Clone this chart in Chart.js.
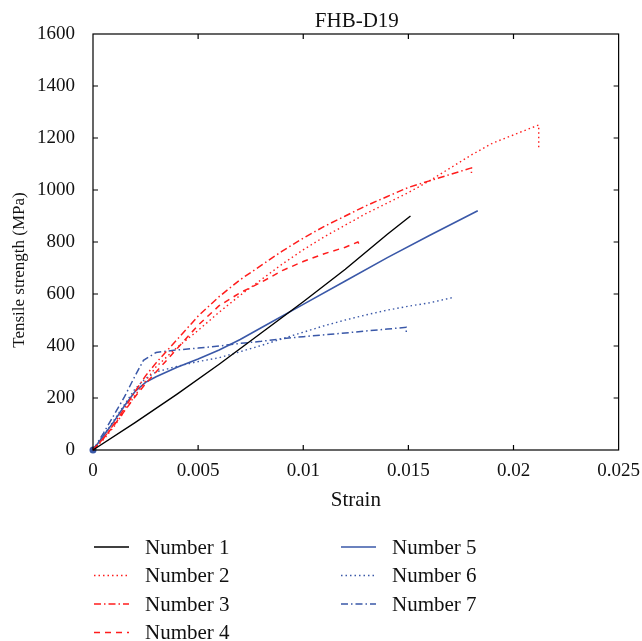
<!DOCTYPE html>
<html>
<head>
<meta charset="utf-8">
<script src="https://cdn.jsdelivr.net/npm/chart.js@4.4.1/dist/chart.umd.min.js"></script>
<style>
  html, body { margin: 0; padding: 0; background: #fff; }
  #wrap { position: relative; width: 642px; height: 641px; }
</style>
</head>
<body>
<div id="wrap"><canvas id="c" width="642" height="641"></canvas></div>
<script>
// ---- Data ----
const chartTitle = 'FHB-D19';
const xTitle = 'Strain';
const yTitle = 'Tensile strength (MPa)';
const xTickLabels = ['0', '0.005', '0.01', '0.015', '0.02', '0.025'];
const yTickLabels = ['0', '200', '400', '600', '800', '1000', '1200', '1400', '1600'];
const seriesNames = ['Number 1', 'Number 2', 'Number 3', 'Number 4', 'Number 5', 'Number 6', 'Number 7'];

const n1Strain = [0, 0.002, 0.004, 0.006, 0.008, 0.010, 0.012, 0.014, 0.0151];
const n1Stress = [0, 105, 215, 330, 450, 570, 695, 830, 900];

const n2Strain = [0, 0.0005, 0.001, 0.0015, 0.002, 0.0025, 0.003, 0.004, 0.005, 0.006, 0.007, 0.008, 0.009, 0.010, 0.011, 0.012, 0.013, 0.014, 0.015, 0.016, 0.017, 0.018, 0.019, 0.020, 0.0212, 0.0212];
const n2Stress = [0, 40, 90, 150, 210, 265, 320, 395, 460, 530, 595, 655, 715, 770, 820, 865, 910, 950, 990, 1035, 1085, 1135, 1180, 1212, 1250, 1160];

const n3Strain = [0, 0.0005, 0.001, 0.0015, 0.002, 0.0025, 0.003, 0.004, 0.005, 0.006, 0.007, 0.008, 0.009, 0.010, 0.011, 0.012, 0.013, 0.014, 0.015, 0.016, 0.017, 0.018, 0.018];
const n3Stress = [0, 45, 100, 160, 225, 285, 335, 425, 515, 590, 655, 710, 765, 815, 860, 900, 940, 975, 1010, 1035, 1060, 1085, 1065];

const n4Strain = [0, 0.0005, 0.001, 0.0015, 0.002, 0.0025, 0.003, 0.004, 0.005, 0.006, 0.007, 0.008, 0.009, 0.010, 0.011, 0.012, 0.0126, 0.0127];
const n4Stress = [0, 45, 95, 150, 205, 255, 300, 390, 480, 555, 605, 645, 690, 725, 755, 780, 800, 785];

const n5Strain = [0, 0.0005, 0.001, 0.0015, 0.002, 0.0025, 0.003, 0.004, 0.005, 0.006, 0.007, 0.008, 0.010, 0.012, 0.014, 0.016, 0.0183];
const n5Stress = [0, 55, 110, 170, 225, 260, 282, 318, 350, 385, 425, 470, 560, 650, 740, 825, 920];

const n6Strain = [0, 0.0005, 0.001, 0.0015, 0.002, 0.0025, 0.003, 0.004, 0.005, 0.006, 0.007, 0.008, 0.009, 0.010, 0.011, 0.012, 0.013, 0.014, 0.015, 0.016, 0.0172];
const n6Stress = [0, 55, 115, 175, 235, 275, 300, 322, 340, 355, 378, 402, 428, 453, 478, 500, 520, 538, 553, 566, 588];

const n7Strain = [0, 0.0005, 0.001, 0.0015, 0.002, 0.0024, 0.003, 0.004, 0.005, 0.006, 0.007, 0.008, 0.009, 0.010, 0.011, 0.012, 0.013, 0.014, 0.0149, 0.0149];
const n7Stress = [0, 65, 135, 205, 285, 345, 375, 385, 392, 400, 410, 418, 428, 436, 443, 450, 458, 465, 472, 452];

// ---- Build datasets ----
const RED = 'rgb(255,28,28)';
const BLUE = 'rgb(58,88,168)';
const BLACK = 'rgb(0,0,0)';
function pts(xs, ys) { return xs.map((x, i) => ({ x: x, y: ys[i] })); }

const styles = [
  { color: BLACK, dash: [], width: 1.4 },
  { color: RED, dash: [1.5, 3], width: 1.4 },
  { color: RED, dash: [7, 3, 1.5, 3], width: 1.5 },
  { color: RED, dash: [6, 5], width: 1.5 },
  { color: BLUE, dash: [], width: 1.6 },
  { color: BLUE, dash: [1.5, 3], width: 1.4 },
  { color: BLUE, dash: [7, 3, 1.5, 3], width: 1.5 }
];
const seriesData = [
  pts(n1Strain, n1Stress), pts(n2Strain, n2Stress), pts(n3Strain, n3Stress),
  pts(n4Strain, n4Stress), pts(n5Strain, n5Stress), pts(n6Strain, n6Stress),
  pts(n7Strain, n7Stress)
];
const datasets = seriesData.map((d, i) => ({
  label: seriesNames[i],
  data: d,
  showLine: true,
  borderColor: styles[i].color,
  backgroundColor: styles[i].color,
  borderDash: styles[i].dash,
  borderWidth: styles[i].width,
  pointRadius: (i === 6) ? (ctx => ctx.dataIndex === 0 ? 3.5 : 0) : 0,
  pointBorderWidth: 0,
  tension: 0,
  clip: false
}));

const FONT = "'Liberation Serif', 'Times New Roman', serif";

const framePlugin = {
  id: 'frame',
  afterDraw(chart) {
    const { ctx, chartArea: a, scales } = chart;
    ctx.save();
    ctx.strokeStyle = '#000';
    ctx.lineWidth = 1.2;
    ctx.strokeRect(a.left, a.top, a.right - a.left, a.bottom - a.top);
    const tl = 5;
    ctx.beginPath();
    scales.x.ticks.forEach(t => {
      const px = scales.x.getPixelForValue(t.value);
      if (px <= a.left + 1 || px >= a.right - 1) return;
      ctx.moveTo(px, a.bottom); ctx.lineTo(px, a.bottom - tl);
      ctx.moveTo(px, a.top); ctx.lineTo(px, a.top + tl);
    });
    scales.y.ticks.forEach(t => {
      const py = scales.y.getPixelForValue(t.value);
      if (py <= a.top + 1 || py >= a.bottom - 1) return;
      ctx.moveTo(a.left, py); ctx.lineTo(a.left + tl, py);
      ctx.moveTo(a.right, py); ctx.lineTo(a.right - tl, py);
    });
    ctx.stroke();

    // title
    ctx.fillStyle = '#111';
    ctx.font = '21px ' + FONT;
    ctx.textAlign = 'center';
    ctx.textBaseline = 'middle';
    ctx.fillText(chartTitle, (a.left + a.right) / 2 + 1, 21);

    // y-axis title
    ctx.save();
    ctx.translate(20, 270);
    ctx.rotate(-Math.PI / 2);
    ctx.font = '17px ' + FONT;
    ctx.textAlign = 'center';
    ctx.textBaseline = 'middle';
    ctx.fillText(yTitle, 0, 0);
    ctx.restore();

    // legend (two columns)
    const colX = [94, 341];
    const rowY = [547, 575.5, 604, 632.5];
    const lineLen = 35;
    ctx.font = '21px ' + FONT;
    ctx.textAlign = 'left';
    chart.data.datasets.forEach((ds, i) => {
      const col = i < 4 ? 0 : 1;
      const row = i < 4 ? i : i - 4;
      const x = colX[col], y = rowY[row];
      ctx.save();
      ctx.strokeStyle = ds.borderColor;
      ctx.lineWidth = ds.borderWidth;
      ctx.setLineDash(ds.borderDash);
      ctx.beginPath();
      ctx.moveTo(x, y); ctx.lineTo(x + lineLen, y);
      ctx.stroke();
      ctx.restore();
      ctx.fillStyle = '#111';
      ctx.fillText(ds.label, x + 51, y + 1);
    });
    ctx.restore();
  }
};

new Chart(document.getElementById('c'), {
  type: 'scatter',
  data: { datasets: datasets },
  options: {
    responsive: false,
    animation: false,
    events: [],
    layout: { padding: { left: 0, right: 22, top: 34, bottom: 0 } },
    plugins: { legend: { display: false }, title: { display: false }, tooltip: { enabled: false } },
    scales: {
      x: {
        type: 'linear', min: 0, max: 0.025,
        afterFit(s) { s.height = 191; },
        afterBuildTicks(s) { s.ticks = xTickLabels.map(v => ({ value: parseFloat(v) })); },
        grid: { display: false }, border: { display: false },
        ticks: {
          autoSkip: false, maxRotation: 0, padding: 2, color: '#111',
          font: { family: FONT, size: 19 },
          callback: (v, i) => xTickLabels[i]
        },
        title: { display: true, text: xTitle, color: '#111', font: { family: FONT, size: 21 }, padding: { top: 0, bottom: 128 } }
      },
      y: {
        type: 'linear', min: 0, max: 1600,
        afterFit(s) { s.width = 93; },
        afterBuildTicks(s) { s.ticks = yTickLabels.map(v => ({ value: parseFloat(v) })); },
        grid: { display: false }, border: { display: false },
        ticks: {
          autoSkip: false, padding: 10, color: '#111',
          font: { family: FONT, size: 19 },
          callback: (v, i) => yTickLabels[i]
        },
        title: { display: false }
      }
    }
  },
  plugins: [framePlugin]
});
</script>
</body>
</html>
